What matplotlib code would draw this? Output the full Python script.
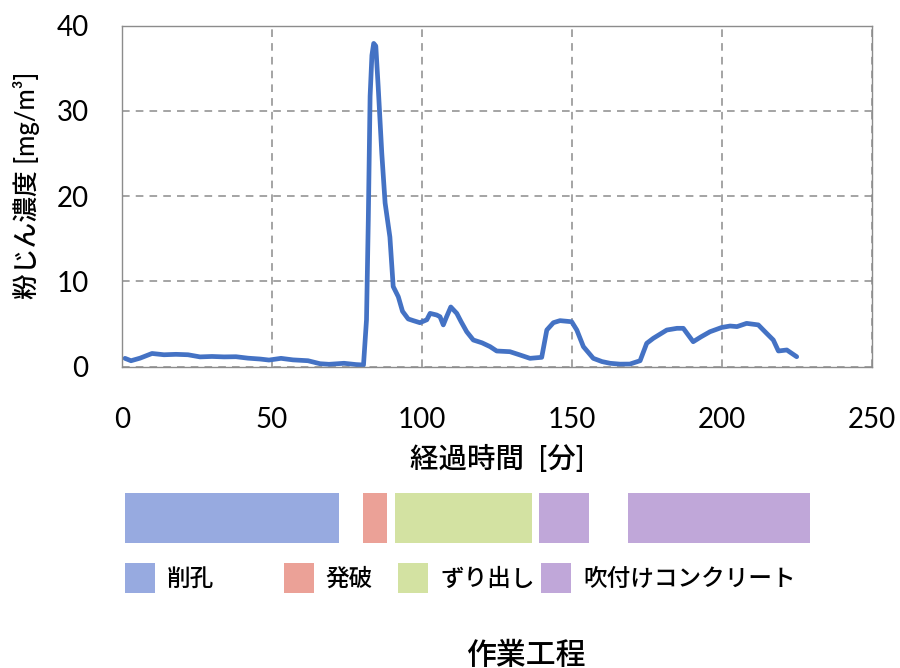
import matplotlib
matplotlib.use("Agg")
import matplotlib.pyplot as plt
from matplotlib.patches import Rectangle

plt.rcParams['font.family'] = ['Lato', 'Noto Sans CJK JP', 'DejaVu Sans']

# Dust concentration over elapsed time
minutes = [1, 3, 6, 10, 14, 18, 22, 26, 30, 34, 38, 42, 46, 49, 53, 57, 62, 66, 69, 74,
           78, 80.5, 81.5, 82.1, 82.7, 83.3, 83.9, 84.6, 85.4, 86.6, 87.7, 89.3, 90.4,
           92.1, 93.5, 95.4, 97.1, 99.3, 101.6, 102.7, 104.9, 106, 107.1, 108.2, 109.6,
           111.6, 113, 114.9, 117.1, 120, 122.7, 124.9, 129.3, 132.7, 136, 139.9, 141.6,
           143.8, 146, 149.9, 151.6, 153.8, 157.1, 160, 162.7, 166, 169.3, 172.7, 174.9,
           177.1, 181.6, 185, 187.1, 190.4, 193, 196, 199.9, 202.7, 205, 208.2, 212.1,
           214.9, 217.1, 218.8, 221.6, 224.9]
dust = [0.98, 0.7, 1.0, 1.55, 1.4, 1.45, 1.4, 1.15, 1.2, 1.15, 1.17, 1.0, 0.9, 0.78,
        0.98, 0.8, 0.7, 0.35, 0.28, 0.4, 0.25, 0.2, 5.5, 17.2, 31.7, 36.5, 37.9, 37.6,
        32.8, 25.0, 19.2, 15.2, 9.4, 8.2, 6.5, 5.6, 5.4, 5.16, 5.5, 6.25, 6.06, 5.86,
        4.9, 5.86, 7.0, 6.25, 5.3, 4.1, 3.13, 2.8, 2.35, 1.84, 1.76, 1.37, 0.98, 1.1,
        4.3, 5.16, 5.4, 5.27, 4.3, 2.35, 0.98, 0.6, 0.4, 0.3, 0.31, 0.7, 2.74, 3.33,
        4.3, 4.5, 4.5, 2.93, 3.5, 4.1, 4.6, 4.77, 4.7, 5.08, 4.9, 3.9, 3.13, 1.84,
        1.96, 1.17]

# Work phases
phase_names = ['削孔', '発破', 'ずり出し', '吹付けコンクリート']
phase_colors = ['#97AAE0', '#EBA197', '#D3E2A2', '#C0A7D9']
phase_start = [1, 80.4, 91, 139, 168.7]
phase_end = [72.4, 88.4, 136.7, 155.7, 229.3]
phase_kind = [0, 1, 2, 3, 3]

x_ticks = [0, 50, 100, 150, 200, 250]
y_ticks = [0, 10, 20, 30, 40]

W, H = 900, 668
fig = plt.figure(figsize=(W / 100, H / 100), dpi=100)

def fx(px):
    return px / W

def fy(py):
    return 1 - py / H

ax = fig.add_axes([fx(122), fy(366.7), fx(872) - fx(122), fy(25.5) - fy(366.7)])
ax.plot(minutes, dust, color='#4472C4', lw=3.4, solid_joinstyle='round',
        solid_capstyle='round')
ax.set_xlim(0, 250)
ax.set_ylim(0, 40)
ax.set_xticks(x_ticks)
ax.set_yticks(y_ticks)
ax.tick_params(length=0, labelsize=20)
ax.tick_params(axis='x', pad=29)
ax.tick_params(axis='y', pad=24)
ax.grid(True, color='#8c8c8c', lw=1.1, ls=(0, (5, 4)))
for s in ax.spines.values():
    s.set_color('#8c8c8c')
    s.set_linewidth(1.0)

fig.text(fx(497.5), fy(459), '経過時間  [分]', fontsize=20.5, ha='center', va='center',
         fontweight='medium')
fig.text(fx(27), fy(185), '粉じん濃度 [mg/m³]', fontsize=18.5, ha='center', va='center',
         rotation=90, fontweight='medium')

# Phase timeline bars on the same time scale
bx = fig.add_axes([fx(122), fy(542.7), fx(872) - fx(122), fy(492.7) - fy(542.7)])
bx.set_xlim(0, 250)
bx.set_ylim(0, 1)
bx.axis('off')
for s0, s1, k in zip(phase_start, phase_end, phase_kind):
    bx.barh(0.5, s1 - s0, left=s0, height=1.0, color=phase_colors[k], lw=0)

# Legend row
sq_x = [125, 284, 398, 541]
txt_x = [167, 325, 440, 583]
for name, col, sx, tx in zip(phase_names, phase_colors, sq_x, txt_x):
    fig.patches.append(Rectangle((fx(sx), fy(593)), fx(30), fy(563) - fy(593),
                                 transform=fig.transFigure, color=col, lw=0))
    fig.text(fx(tx), fy(578), name, fontsize=17, va='center', ha='left',
             fontweight='medium')

fig.text(fx(526), fy(655), '作業工程', fontsize=21.5, va='center', ha='center',
         fontweight='medium')

fig.savefig('out.png', dpi=100, facecolor='white')
